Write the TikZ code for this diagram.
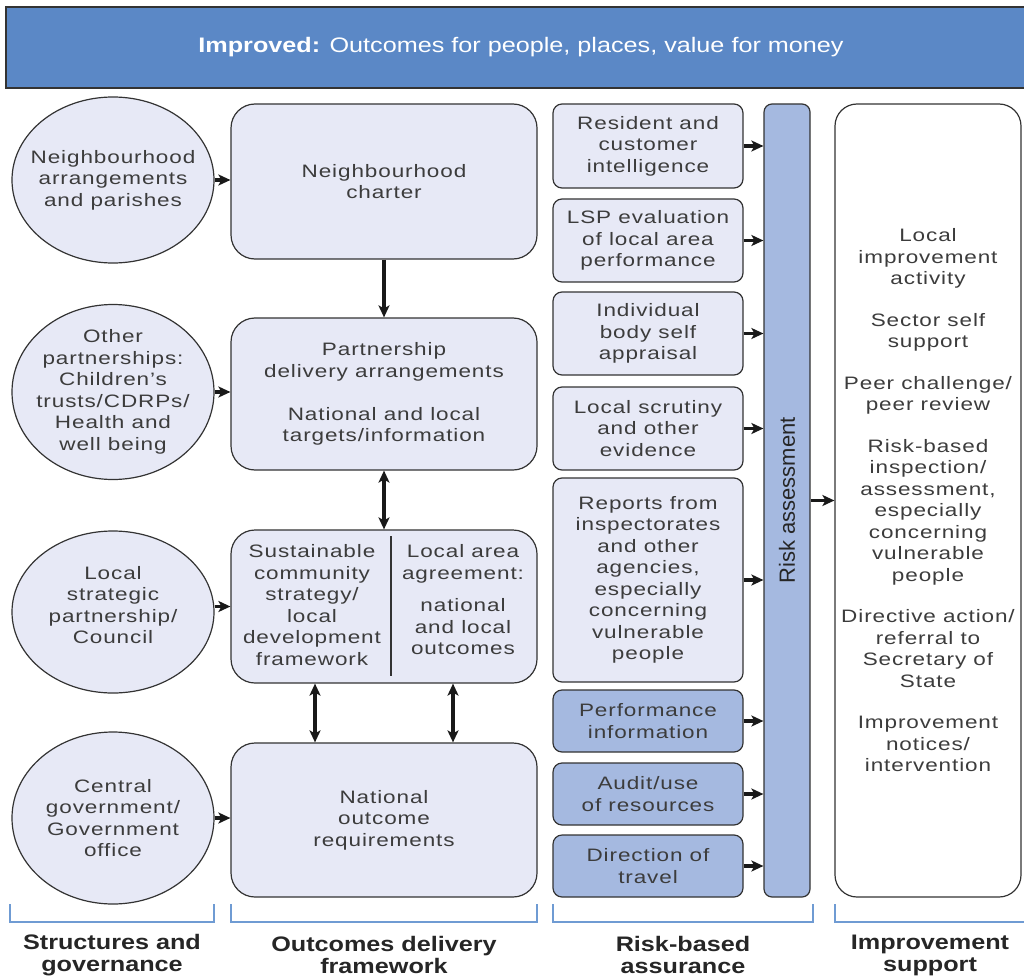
\documentclass[tikz,border=0pt]{standalone}
\usepackage{fontspec}
\setmainfont{Liberation Sans}[FakeStretch=1.25,LetterSpace=5]
\newfontfamily\narrowfont{Liberation Sans}[FakeStretch=1.2]
\newfontfamily\barfont{Liberation Sans}[FakeStretch=1.0]
\usetikzlibrary{arrows.meta,shapes.geometric,positioning}
\definecolor{bannerblue}{HTML}{5B88C6}
\definecolor{paleblue}{HTML}{E7E9F6}
\definecolor{midblue}{HTML}{A5B9E0}
\definecolor{lineblue}{HTML}{6F9BD3}
\definecolor{textgrey}{HTML}{3C3C3C}

\begin{document}
\begin{tikzpicture}[x=1pt,y=-1pt,>={Stealth[length=12pt,width=11pt,inset=3pt]},
	every node/.style={font=\fontsize{18}{21.5}\selectfont,text=textgrey,align=center,inner sep=0pt},
	oval/.style={ellipse,draw=black!80,line width=1.2pt,fill=paleblue,minimum width=202pt,minimum height=166pt},
	bigbox/.style={rectangle,rounded corners=24pt,draw=black!80,line width=1.2pt,fill=paleblue,minimum width=306pt},
	riskbox/.style={rectangle,rounded corners=9pt,draw=black!80,line width=1.2pt,fill=paleblue,minimum width=190pt},
	darkbox/.style={riskbox,fill=midblue},
	flow/.style={->,line width=3.2pt,black!90},
	bracket/.style={draw=lineblue,line width=1.2pt},
	colhead/.style={font=\narrowfont\bfseries\fontsize{21}{22}\selectfont,text=black!85}]
\useasboundingbox (0,0) rectangle (1024,976);

\node[rectangle,draw=black!80,line width=1.2pt,fill=bannerblue,minimum width=1030pt,minimum height=81pt,
	text=white,font=\narrowfont\fontsize{21}{22}\selectfont](banner) at (521,47.5)
	{\textbf{Improved:} Outcomes for people, places, value for money};

\node[oval,label={center:Neighbourhood\\arrangements\\and parishes}](nb) at (113,180) {};
\node[oval,minimum height=175pt,label={center:Other\\partnerships:\\Children's\\trusts/CDRPs/\\Health and\\well being}](op) at (113,392) {};
\node[oval,minimum height=162pt,label={[yshift=7pt]center:Local\\strategic\\partnership/\\Council}](ls) at (113,612) {};
\node[oval,minimum height=172pt,label={center:Central\\government/\\Government\\office}](cg) at (113,818) {};

\node[bigbox,minimum height=155pt](charter) at (384,181.5) {Neighbourhood\\charter};
\node[bigbox,minimum height=152pt](part) at (384,394) {Partnership\\delivery arrangements\\[21.5pt]National and local\\targets/information};
\node[bigbox,minimum height=153pt](sust) at (384,606.5) {};
\node(sustL) at (312,605) {Sustainable\\community\\strategy/\\local\\development\\framework};
\node(sustR) at (463,600) {Local area\\agreement:\\[11pt]national\\and local\\outcomes};
\draw[black!80,line width=1.2pt] (391,536) -- (391,676);
\node[bigbox,minimum height=154pt](nat) at (384,820) {National\\outcome\\requirements};

\node[riskbox,minimum height=84pt](res) at (648,146) {Resident and\\customer\\intelligence};
\node[riskbox,minimum height=83pt](lsp) at (648,240.5) {LSP evaluation\\of local area\\performance};
\node[riskbox,minimum height=83pt](ind) at (648,333.5) {Individual\\body self\\appraisal};
\node[riskbox,minimum height=83pt](scr) at (648,428.5) {Local scrutiny\\and other\\evidence};
\node[riskbox,minimum height=204pt](rep) at (648,580) {Reports from\\inspectorates\\and other\\agencies,\\especially\\concerning\\vulnerable\\people};
\node[darkbox,minimum height=62pt](perf) at (648,721) {Performance\\information};
\node[darkbox,minimum height=62pt](aud) at (648,794) {Audit/use\\of resources};
\node[darkbox,minimum height=62pt](dir) at (648,866) {Direction of\\travel};

\node[rectangle,rounded corners=8pt,draw=black!80,line width=1.2pt,fill=midblue,minimum width=46pt,minimum height=793pt](bar) at (787,500.5) {};
\node[rotate=90,font=\barfont\fontsize{22}{22}\selectfont,text=black!85](barText) at (bar) {Risk assessment};

\node[rectangle,rounded corners=22pt,draw=black!80,line width=1.2pt,fill=white,minimum width=186pt,minimum height=793pt](imp) at (928,500.5)
	{Local\\improvement\\activity\\[20pt]Sector self\\support\\[20pt]Peer challenge/\\peer review\\[20pt]Risk-based\\inspection/\\assessment,\\especially\\concerning\\vulnerable\\people\\[20pt]Directive action/\\referral to\\Secretary of\\State\\[20pt]Improvement\\notices/\\intervention};

\draw[flow] (nb.east) -- (nb.east -| charter.west);
\draw[flow] (op.east) -- (op.east -| part.west);
\draw[flow] (ls.east |- sust.west) -- (sust.west);
\draw[flow] (cg.east) -- (cg.east -| nat.west);

\draw[flow] (charter.south) -- (part.north);
\draw[flow,<->] (part.south) -- (sust.north);
\draw[flow,<->] ([xshift=-69pt]sust.south) -- ([xshift=-69pt]nat.north);
\draw[flow,<->] ([xshift= 69pt]sust.south) -- ([xshift= 69pt]nat.north);

\foreach \b in {res,lsp,ind,scr,rep,perf,aud,dir}
	\draw[flow] (\b.east) -- (\b.east -| bar.west);
\draw[flow] (bar.east) -- (imp.west);

\draw[bracket] (10,904) -- (10,922) -- (214,922) -- (214,904);
\draw[bracket] (231,904) -- (231,922) -- (537,922) -- (537,904);
\draw[bracket] (553,904) -- (553,922) -- (813,922) -- (813,904);
\draw[bracket] (835,904) -- (835,922) -- (1030,922);

\node[colhead](h1) at (112,955) {Structures and\\governance};
\node[colhead](h2) at (384,955) {Outcomes delivery\\framework};
\node[colhead](h3) at (683,955) {Risk-based\\assurance};
\node[colhead](h4) at (930,955) {Improvement\\support};
\end{tikzpicture}
\end{document}
